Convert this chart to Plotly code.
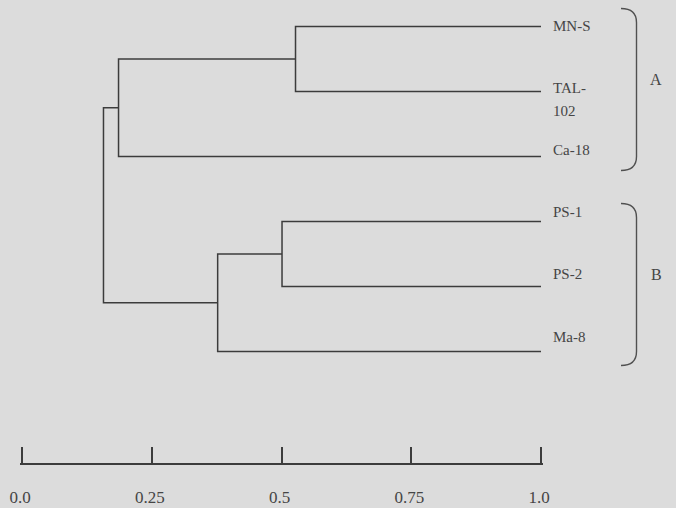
import plotly.graph_objects as go

# ---------------- data ----------------
leaf_labels = ["MN-S", "TAL-102", "Ca-18", "PS-1", "PS-2", "Ma-8"]
leaf_lines = [["MN-S"], ["TAL-", "102"], ["Ca-18"], ["PS-1"], ["PS-2"], ["Ma-8"]]
leaf_value = 1.0
# merges: leaves are 0..5, merged clusters get ids 6, 7, ...
merge_left = [0, 6, 3, 8, 7]
merge_right = [1, 2, 4, 5, 9]
merge_value = [0.527, 0.186, 0.501, 0.377, 0.157]
group_names = ["A", "B"]
group_members = [[0, 1, 2], [3, 4, 5]]
tick_vals = [0.0, 0.25, 0.5, 0.75, 1.0]
tick_text = ["0.0", "0.25", "0.5", "0.75", "1.0"]

# ---------------- layout geometry (pixels) ----------------
W, H = 676, 508
BG = "rgb(220,220,220)"
LINE = "#3c3c3c"
TXT = "#454545"
FONT = "Liberation Serif, Times New Roman, serif"
X0, X1 = 22, 541          # scale bar ends (0.0 and 1.0)
PAD = 0.003               # tiny range padding so end ticks are drawn
PLOT_BOTTOM = 463         # scale bar y
LEAF_TOP, LEAF_STEP = 26.5, 65.0

def ypx(i):
    return LEAF_TOP + LEAF_STEP * i

y_range = [(PLOT_BOTTOM - LEAF_TOP) / LEAF_STEP, -LEAF_TOP / LEAF_STEP]
span = X1 - X0
x_domain = [(X0 - PAD * span) / W, (X1 + PAD * span) / W]

# ---------------- build tree ----------------
pos = {i: (leaf_value, float(i)) for i in range(len(leaf_labels))}
xs, ys = [], []
for k, (l, r, h) in enumerate(zip(merge_left, merge_right, merge_value)):
    xl, yl = pos[l]
    xr, yr = pos[r]
    xs += [xl, h, h, xr, None]
    ys += [yl, yl, yr, yr, None]
    pos[len(leaf_labels) + k] = (h, (yl + yr) / 2)

fig = go.Figure()
fig.add_trace(go.Scatter(x=xs, y=ys, mode="lines",
                         line=dict(color=LINE, width=1.5),
                         hoverinfo="skip", showlegend=False))

annotations = []
for i, lines in enumerate(leaf_lines):
    for k, t in enumerate(lines):
        annotations.append(dict(x=leaf_value, y=i, xref="x", yref="y", text=t,
                                showarrow=False, xanchor="left", yanchor="middle",
                                xshift=10, yshift=2.8 * i + 1 - 23 * k,
                                font=dict(family=FONT, size=15, color=TXT)))

shapes = []
for g, members in zip(group_names, group_members):
    top = ypx(min(members)) - 18
    bot = ypx(max(members)) + 14
    xa, xb, r = 621, 636.5, 14
    def P(x, y):
        return f"{x / W:.5f},{1 - y / H:.5f}"
    path = (f"M {P(xa, top)} Q {P(xb, top)} {P(xb, top + r)} "
            f"L {P(xb, bot - r)} Q {P(xb, bot)} {P(xa, bot)}")
    shapes.append(dict(type="path", xref="paper", yref="paper", path=path,
                       line=dict(color="#505050", width=1.4)))
    mid = (ypx(min(members)) + ypx(max(members))) / 2 - 12
    annotations.append(dict(x=656 / W, y=1 - mid / H, xref="paper", yref="paper",
                            text=g, showarrow=False, xanchor="center", yanchor="middle",
                            font=dict(family=FONT, size=16, color=TXT)))

fig.update_layout(
    template="none",
    width=W, height=H, autosize=False,
    margin=dict(l=0, r=0, t=0, b=0, pad=0),
    paper_bgcolor=BG, plot_bgcolor=BG,
    showlegend=False,
    xaxis=dict(domain=x_domain, range=[-PAD, 1 + PAD], automargin=False,
               showgrid=False, zeroline=False,
               showline=True, linecolor=LINE, linewidth=1.5,
               ticks="inside", ticklen=16, tickwidth=1.5, tickcolor=LINE,
               tickvals=tick_vals, ticktext=tick_text,
               ticklabelstandoff=18, ticklabelshift=-2,
               tickfont=dict(family=FONT, size=17, color=TXT),
               fixedrange=True),
    yaxis=dict(domain=[1 - PLOT_BOTTOM / H, 1], range=y_range, automargin=False,
               showgrid=False, zeroline=False, showline=False,
               showticklabels=False, ticks="", fixedrange=True),
    annotations=annotations,
    shapes=shapes,
)

fig.write_html("out.html", config={"displayModeBar": False},
               post_script="document.body.style.margin='0px';document.body.style.overflow='hidden';")
